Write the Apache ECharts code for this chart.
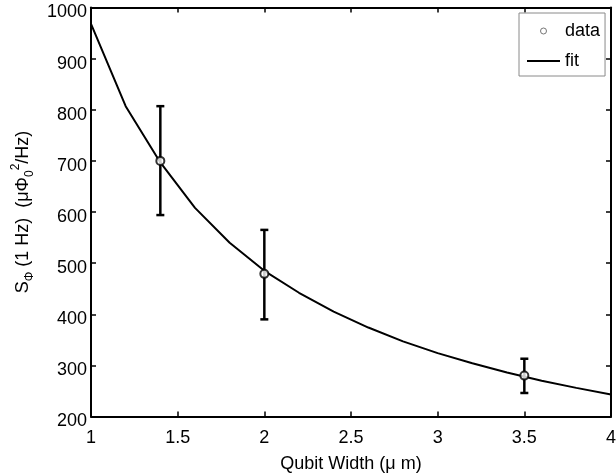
<!DOCTYPE html>
<html>
<head>
<meta charset="utf-8">
<script src="https://cdn.jsdelivr.net/npm/echarts@6/dist/echarts.min.js"></script>
<style>
html,body{margin:0;padding:0;background:#fff;}
#chart{width:616px;height:474px;}
</style>
</head>
<body>
<div id="chart"></div>
<script>
// Measured data points
var dataX = [1.4, 2.0, 3.5];
var dataY = [700, 479, 280];
var errLow = [594, 390, 246];
var errHigh = [807, 565, 313];

// Fit curve
var fitX = [1.0, 1.2, 1.4, 1.6, 1.8, 2.0, 2.2, 2.4, 2.6, 2.8, 3.0, 3.2, 3.4, 3.6, 3.8, 4.0];
var fitY = [968, 807, 697, 608, 540, 485, 442, 405, 374, 347, 324, 304, 286, 270, 256, 243];

// Axis ticks
var xTicks = [1, 1.5, 2, 2.5, 3, 3.5, 4];
var yTicks = [200, 300, 400, 500, 600, 700, 800, 900, 1000];

var FONT = 'Liberation Sans';
var chart = echarts.init(document.getElementById('chart'));

var pointData = dataX.map(function (x, i) { return [x, dataY[i]]; });
var errData = dataX.map(function (x, i) { return [x, errLow[i], errHigh[i]]; });
var fitData = fitX.map(function (x, i) { return [x, fitY[i]]; });

var axisLine = { show: true, onZero: false, lineStyle: { color: '#000', width: 2 } };
var tickIn = { show: true, inside: true, length: 5, lineStyle: { color: '#000', width: 1.5 } };

var option = {
  backgroundColor: '#fff',
  animation: false,
  grid: { left: 91, right: 5, top: 7.5, bottom: 57.5, containLabel: false, outerBoundsMode: 'none' },
  legend: {
    orient: 'vertical',
    left: 519,
    top: 13,
    padding: [9, 5, 6, 8],
    itemWidth: 33,
    itemHeight: 6,
    itemGap: 12,
    backgroundColor: '#fff',
    borderColor: '#8a8a8a',
    borderWidth: 1,
    borderRadius: 0,
    textStyle: { fontFamily: FONT, fontSize: 18, color: '#000' },
    data: [
      { name: 'data', icon: 'circle', itemStyle: { color: '#fff', borderColor: '#555', borderWidth: 1 } },
      { name: 'fit', icon: 'path://M0 0H33V2H0Z', itemStyle: { color: '#000', borderWidth: 0 } }
    ]
  },
  xAxis: [
    {
      type: 'value', min: xTicks[0], max: xTicks[xTicks.length - 1], interval: 0.5,
      position: 'bottom',
      axisLine: axisLine, axisTick: tickIn, splitLine: { show: false },
      axisLabel: { color: '#000', fontFamily: FONT, fontSize: 18, margin: 13 },
      name: 'Qubit Width (\u03bc m)', nameLocation: 'middle', nameGap: 39,
      nameTextStyle: { color: '#000', fontFamily: FONT, fontSize: 18 }
    },
    {
      type: 'value', min: xTicks[0], max: xTicks[xTicks.length - 1], interval: 0.5,
      position: 'top',
      axisLine: axisLine, axisTick: tickIn, splitLine: { show: false },
      axisLabel: { show: false }
    }
  ],
  yAxis: [
    {
      type: 'value', min: yTicks[0], max: yTicks[yTicks.length - 1], interval: 100,
      position: 'left',
      axisLine: axisLine, axisTick: tickIn, splitLine: { show: false },
      axisLabel: {
        color: '#000', fontFamily: FONT, fontSize: 18, margin: 4,
        formatter: function (v) { return '{b| }\n{a|' + v + '}'; },
        rich: {
          a: { fontFamily: FONT, fontSize: 18, color: '#000', lineHeight: 20 },
          b: { fontSize: 10, lineHeight: 10 }
        }
      },
      name: '{m|S}{sub|\u03a6}{m| (1 Hz)  (\u03bc\u03a6}{sub|0}{sup|2}{m|/Hz)}',
      nameLocation: 'middle', nameGap: 38, nameRotate: 90,
      nameTextStyle: {
        color: '#000', fontFamily: FONT, fontSize: 18,
        rich: {
          m: { fontFamily: FONT, fontSize: 18, color: '#000', lineHeight: 26 },
          sub: { fontFamily: FONT, fontSize: 12, color: '#000', lineHeight: 12, verticalAlign: 'bottom' },
          sup: { fontFamily: FONT, fontSize: 12, color: '#000', lineHeight: 12, verticalAlign: 'top' }
        }
      }
    },
    {
      type: 'value', min: yTicks[0], max: yTicks[yTicks.length - 1], interval: 100,
      position: 'right',
      axisLine: axisLine, axisTick: tickIn, splitLine: { show: false },
      axisLabel: { show: false }
    }
  ],
  series: [
    {
      name: 'fit', type: 'line', data: fitData, xAxisIndex: 0, yAxisIndex: 0,
      symbol: 'none', smooth: false,
      lineStyle: { color: '#000', width: 2 },
      itemStyle: { color: '#000' },
      z: 2
    },
    {
      name: 'errorbars', type: 'custom', data: errData, xAxisIndex: 0, yAxisIndex: 0,
      encode: { x: 0, y: [1, 2] },
      renderItem: function (params, api) {
        var x = api.value(0);
        var lo = api.coord([x, api.value(1)]);
        var hi = api.coord([x, api.value(2)]);
        var hw = 4;
        var st = { stroke: '#000', lineWidth: 2.5, fill: null };
        return {
          type: 'group',
          children: [
            { type: 'line', shape: { x1: lo[0], y1: lo[1], x2: hi[0], y2: hi[1] }, style: st },
            { type: 'line', shape: { x1: lo[0] - hw, y1: lo[1], x2: lo[0] + hw, y2: lo[1] }, style: st },
            { type: 'line', shape: { x1: hi[0] - hw, y1: hi[1], x2: hi[0] + hw, y2: hi[1] }, style: st }
          ]
        };
      },
      z: 3
    },
    {
      name: 'data', type: 'scatter', data: pointData, xAxisIndex: 0, yAxisIndex: 0,
      symbol: 'emptyCircle', symbolSize: 8,
      itemStyle: { color: '#000', borderWidth: 2 },
      z: 4
    }
  ]
};
chart.setOption(option);
</script>
</body>
</html>
